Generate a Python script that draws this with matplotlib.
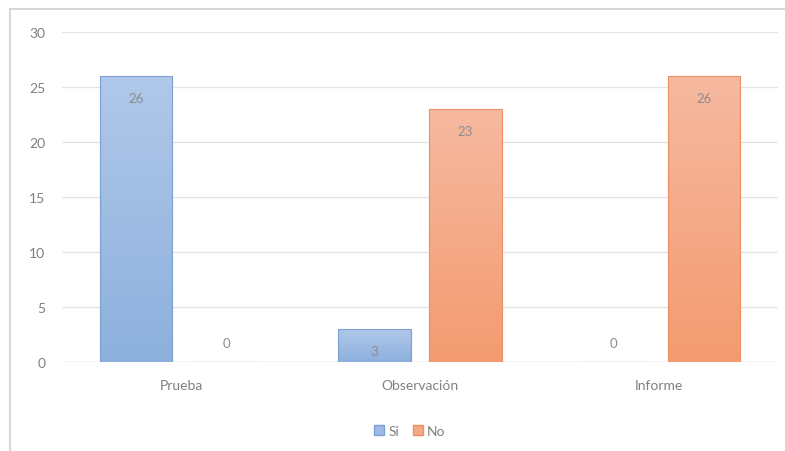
import numpy as np
import matplotlib.pyplot as plt
from matplotlib.colors import LinearSegmentedColormap
from matplotlib.lines import Line2D

categories = ['Prueba', 'Observación', 'Informe']
si = [26, 3, 0]
no = [0, 23, 26]
series_names = ['Si', 'No']
yticks = [0, 5, 10, 15, 20, 25, 30]

plt.rcParams['font.family'] = ['Lato', 'DejaVu Sans']

fig = plt.figure(figsize=(7.85, 4.52), dpi=100)
ax = fig.add_axes([62/785, 89/452, 716/785, 330/452])

grey = '#808080'
blue_cm = LinearSegmentedColormap.from_list('b', ['#8db0dd', '#b0c8e9'])
orange_cm = LinearSegmentedColormap.from_list('o', ['#f39b70', '#f6b9a0'])

x = np.arange(len(categories))
w = 0.305
off = 0.19
grad = np.linspace(0, 1, 256).reshape(-1, 1)

def gradient_bars(xs, vals, cmap, edge):
    bars = ax.bar(xs, vals, width=w, color='none', edgecolor=edge, linewidth=0.8, zorder=3)
    for b, v in zip(bars, vals):
        if v <= 0:
            continue
        x0 = b.get_x()
        im = ax.imshow(grad, cmap=cmap, origin='lower', aspect='auto',
                       extent=(x0, x0 + w, 0, v), zorder=2)
        im.set_clip_path(b)
    return bars

gradient_bars(x - off, si, blue_cm, '#7a9fd0')
gradient_bars(x + off, no, orange_cm, '#ec8f62')

for xs, vals in ((x - off, si), (x + off, no)):
    for xi, v in zip(xs, vals):
        dy = -16 if v > 0 else 14
        ax.annotate(str(v), (xi, v), xytext=(0, dy), textcoords='offset points',
                    ha='center', va='center', fontsize=9.5, color='#8c8c8c', zorder=4)

ax.set_xlim(-0.5, 2.5)
ax.set_ylim(0, 30)
ax.set_yticks(yticks)
ax.set_xticks(x)
ax.set_xticklabels(categories)
ax.tick_params(length=0, colors=grey, labelsize=10)
ax.tick_params(axis='x', pad=12)
ax.tick_params(axis='y', pad=12)
ax.grid(axis='y', color='#e3e3e3', linewidth=0.9, zorder=0)
ax.set_axisbelow(True)
for s in ax.spines.values():
    s.set_visible(False)
ax.axhline(0, color='#d9d9d9', linewidth=0.9, zorder=1)

handles = [plt.Rectangle((0, 0), 1, 1, facecolor='#9dbbe3', edgecolor='#7a9fd0'),
           plt.Rectangle((0, 0), 1, 1, facecolor='#f4a987', edgecolor='#ec8f62')]
fig.legend(handles, series_names, loc='center', bbox_to_anchor=(410/785, 1 - 432/452),
           ncol=2, frameon=False, fontsize=10, labelcolor=grey, handlelength=0.7,
           handleheight=0.7, handletextpad=0.3, columnspacing=1.0)

# chart frame (top and left edges only are visible)
fig.add_artist(Line2D([10/785, 1], [1 - 10/452, 1 - 10/452], color='#d0d0d0', linewidth=1.2))
fig.add_artist(Line2D([10/785, 10/785], [0, 1 - 10/452], color='#d0d0d0', linewidth=1.2))

fig.savefig('out.png', dpi=100)
